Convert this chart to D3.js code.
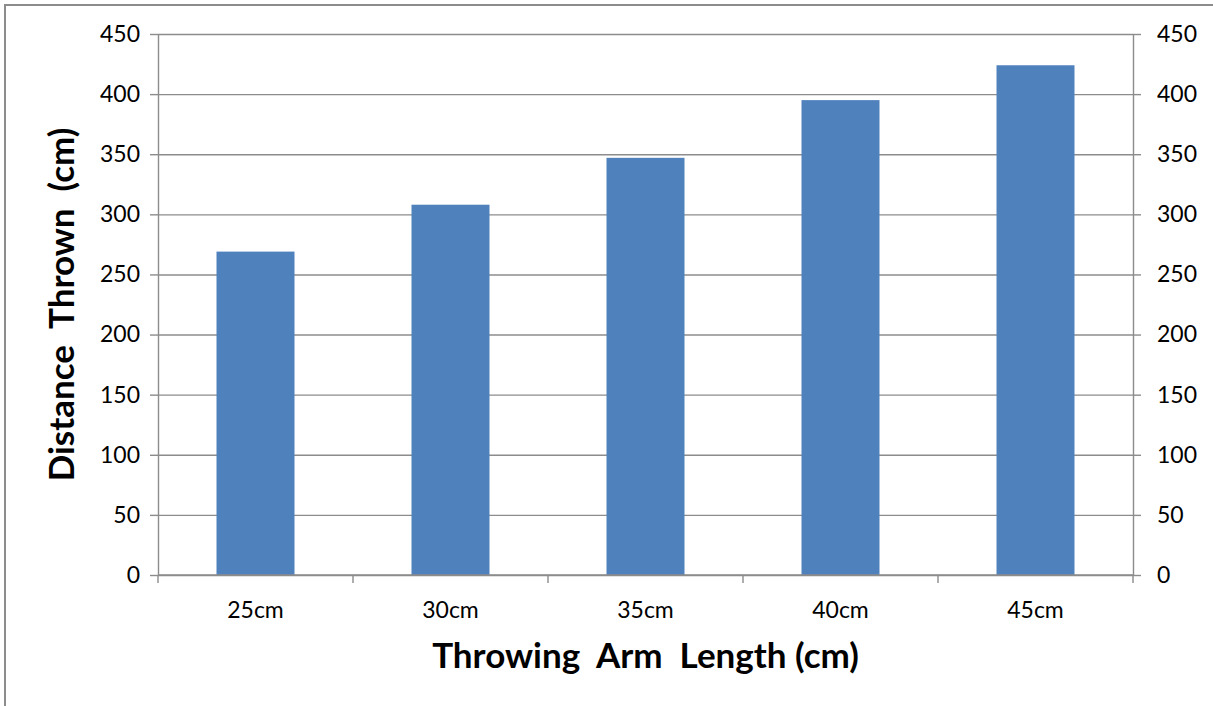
<!DOCTYPE html>
<html>
<head>
<meta charset="utf-8">
<script src="https://cdn.jsdelivr.net/npm/d3@7"></script>
<style>
  html, body { margin: 0; padding: 0; background: #fff; }
  svg { display: block; }
  text { font-family: Lato, "Open Sans", sans-serif; fill: #000; white-space: pre; }
</style>
</head>
<body>
<svg id="chart" width="1213" height="706"></svg>
<script>
const categories = ["25cm", "30cm", "35cm", "40cm", "45cm"];
const distances = [269, 308, 347, 395, 424];
const yTicks = [0, 50, 100, 150, 200, 250, 300, 350, 400, 450];
const xTitle = "Throwing  Arm  Length (cm)";
const yTitle = "Distance  Thrown  (cm)";

const svg = d3.select("#chart");
const W = 1213, H = 706;
const plot = { left: 158, right: 1133, top: 34, bottom: 575 };
const tickFont = 23;
const titleFont = 35;

// outer chart border (runs off the right and bottom edges)
svg.append("rect")
  .attr("x", 5).attr("y", 5)
  .attr("width", W + 20).attr("height", H + 20)
  .attr("fill", "none").attr("stroke", "#8c8c8c").attr("stroke-width", 2);

const x = d3.scaleBand().domain(categories).range([plot.left, plot.right]);
const y = d3.scaleLinear().domain([0, 450]).range([plot.bottom, plot.top]);

const gridColor = "#8c8c8c";

// horizontal gridlines
svg.append("g")
  .attr("transform", `translate(${plot.left},0)`)
  .call(d3.axisLeft(y).tickValues(yTicks).tickSize(-(plot.right - plot.left)).tickFormat(""))
  .call(g => g.select(".domain").remove())
  .call(g => g.selectAll("line").attr("stroke", gridColor).attr("stroke-width", 1.4));

// bars
const barW = x.bandwidth() * 0.4;
svg.append("g").selectAll("rect")
  .data(categories.map((c, i) => ({ c, v: distances[i] })))
  .join("rect")
  .attr("x", d => x(d.c) + (x.bandwidth() - barW) / 2)
  .attr("y", d => y(d.v))
  .attr("width", barW)
  .attr("height", d => y(0) - y(d.v))
  .attr("fill", "#4f81bd");

function styleAxis(g) {
  g.select(".domain").attr("stroke", gridColor).attr("stroke-width", 1.4);
  g.selectAll("line").attr("stroke", gridColor).attr("stroke-width", 1.4);
  g.selectAll("text")
    .attr("font-size", tickFont)
    .attr("font-family", "Lato, sans-serif")
    .attr("fill", "#000");
}

// left value axis
svg.append("g")
  .attr("transform", `translate(${plot.left},0)`)
  .call(d3.axisLeft(y).tickValues(yTicks).tickSize(8).tickPadding(10).tickSizeOuter(0))
  .call(styleAxis);

// right value axis
svg.append("g")
  .attr("transform", `translate(${plot.right},0)`)
  .call(d3.axisRight(y).tickValues(yTicks).tickSize(8).tickPadding(16).tickSizeOuter(0))
  .call(styleAxis);

// category axis: tick marks on band boundaries
const bounds = categories.map(c => x(c)).concat([x.range()[1]]);
const xb = svg.append("g");
xb.append("line")
  .attr("x1", plot.left).attr("x2", plot.right)
  .attr("y1", plot.bottom).attr("y2", plot.bottom)
  .attr("stroke", gridColor).attr("stroke-width", 1.4);
xb.selectAll("line.tick")
  .data(bounds)
  .join("line")
  .attr("class", "tick")
  .attr("x1", d => d).attr("x2", d => d)
  .attr("y1", plot.bottom).attr("y2", plot.bottom + 8)
  .attr("stroke", gridColor).attr("stroke-width", 1.4);
xb.selectAll("text")
  .data(categories)
  .join("text")
  .attr("x", d => x(d) + x.bandwidth() / 2)
  .attr("y", 618)
  .attr("text-anchor", "middle")
  .attr("font-size", tickFont)
  .text(d => d);

// axis titles
svg.append("text")
  .attr("x", (plot.left + plot.right) / 2)
  .attr("y", 668)
  .attr("text-anchor", "middle")
  .attr("font-size", titleFont)
  .attr("font-weight", "bold")
  .text(xTitle);

svg.append("text")
  .attr("transform", `translate(74,${(plot.top + plot.bottom) / 2}) rotate(-90)`)
  .attr("text-anchor", "middle")
  .attr("font-size", titleFont)
  .attr("font-weight", "bold")
  .text(yTitle);
</script>
</body>
</html>
